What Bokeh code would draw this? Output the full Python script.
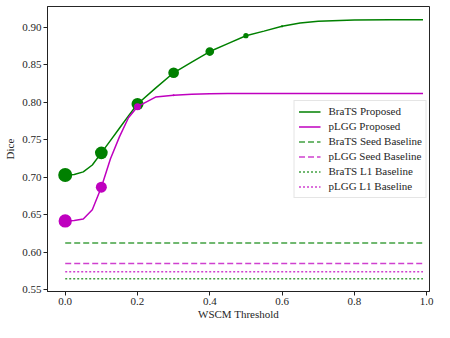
from bokeh.plotting import figure
from bokeh.embed import file_html
from bokeh.resources import INLINE
from bokeh.models import FixedTicker, Range1d, CustomJSTickFormatter

# ---- data ----
thresholds = [0.0, 0.025, 0.05, 0.075, 0.1, 0.125, 0.15, 0.175, 0.2, 0.25, 0.3,
              0.35, 0.4, 0.45, 0.5, 0.55, 0.6, 0.65, 0.7, 0.8, 0.9, 0.99]
brats_dice = [0.7033, 0.7040, 0.7074, 0.7165, 0.7327, 0.7490, 0.7655, 0.7820, 0.7978, 0.8190, 0.8394,
              0.8536, 0.8677, 0.8783, 0.8888, 0.8949, 0.9013, 0.9058, 0.9080, 0.9097, 0.9101, 0.9102]
plgg_dice = [0.6420, 0.6425, 0.6445, 0.6570, 0.6870, 0.7246, 0.7540, 0.7795, 0.7942, 0.8070, 0.8095,
             0.8108, 0.8114, 0.8117, 0.8117, 0.8118, 0.8118, 0.8118, 0.8118, 0.8118, 0.8118, 0.8118]

brats_marker_x = [0.0, 0.1, 0.2, 0.3, 0.4, 0.5, 0.6]
brats_marker_y = [0.7033, 0.7327, 0.7978, 0.8394, 0.8677, 0.8888, 0.9013]
brats_marker_size = [14, 12.7, 12, 10.7, 8.7, 5.3, 2.2]

plgg_marker_x = [0.0, 0.1, 0.2, 0.3]
plgg_marker_y = [0.6420, 0.6870, 0.7942, 0.8095]
plgg_marker_size = [13.3, 11, 7, 2]

baseline_x = [0.0, 0.99]
brats_seed_baseline = 0.6126
plgg_seed_baseline = 0.5853
brats_l1_baseline = 0.5649
plgg_l1_baseline = 0.5742

x_ticks = [0.0, 0.2, 0.4, 0.6, 0.8, 1.0]
y_ticks = [0.55, 0.60, 0.65, 0.70, 0.75, 0.80, 0.85, 0.90]
x_title = "WSCM Threshold"
y_title = "Dice"

GREEN = "#008000"
MAGENTA = "#bf00bf"
FONT = "Liberation Serif"
TXT = "#262626"

p = figure(width=434, height=322, output_backend="svg", toolbar_location=None,
           x_range=Range1d(-0.049, 1.008), y_range=Range1d(0.548, 0.9277),
           min_border_top=6, min_border_right=5, min_border_left=47, min_border_bottom=0)

p.line(thresholds, brats_dice, color=GREEN, line_width=1.5, legend_label="BraTS Proposed")
p.scatter(brats_marker_x, brats_marker_y, size=brats_marker_size, color=GREEN, line_width=0)
p.line(thresholds, plgg_dice, color=MAGENTA, line_width=1.5, legend_label="pLGG Proposed")
p.scatter(plgg_marker_x, plgg_marker_y, size=plgg_marker_size, color=MAGENTA, line_width=0)

p.line(baseline_x, [brats_seed_baseline] * 2, color=GREEN, line_width=1.5, line_alpha=0.75,
       line_dash="6 3", legend_label="BraTS Seed Baseline")
p.line(baseline_x, [plgg_seed_baseline] * 2, color=MAGENTA, line_width=1.5, line_alpha=0.75,
       line_dash="6 3", legend_label="pLGG Seed Baseline")
p.line(baseline_x, [brats_l1_baseline] * 2, color=GREEN, line_width=1.5, line_alpha=0.75,
       line_dash="2 2", legend_label="BraTS L1 Baseline")
p.line(baseline_x, [plgg_l1_baseline] * 2, color=MAGENTA, line_width=1.5, line_alpha=0.75,
       line_dash="2 2", legend_label="pLGG L1 Baseline")

p.grid.visible = False
p.outline_line_color = "black"
p.outline_line_alpha = 0.85
p.outline_line_width = 1

p.xaxis.ticker = FixedTicker(ticks=x_ticks)
p.yaxis.ticker = FixedTicker(ticks=y_ticks)
p.xaxis.formatter = CustomJSTickFormatter(code="return tick.toFixed(1);")
p.yaxis.formatter = CustomJSTickFormatter(code="return tick.toFixed(2);")
p.xaxis.axis_label = x_title
p.yaxis.axis_label = y_title

for ax in (p.xaxis, p.yaxis):
    ax.axis_label_text_font = FONT
    ax.axis_label_text_font_size = "11px"
    ax.axis_label_text_font_style = "normal"
    ax.axis_label_text_color = TXT
    ax.major_label_text_font = FONT
    ax.major_label_text_font_size = "11px"
    ax.major_label_text_color = TXT
    ax.minor_tick_line_color = None
    ax.major_tick_in = 0
    ax.major_tick_out = 4
    ax.major_tick_line_color = "#222222"
    ax.axis_line_color = "#222222"
p.xaxis.major_label_standoff = 2
p.xaxis.axis_label_standoff = 0
p.yaxis.major_label_standoff = 2
p.yaxis.axis_label_standoff = 3

leg = p.legend[0]
leg.location = "center_right"
leg.margin = 2
leg.padding = 4
leg.spacing = 2
leg.label_height = 13
leg.glyph_height = 13
leg.glyph_width = 22
leg.label_standoff = 8
leg.label_text_font = FONT
leg.label_text_font_size = "11px"
leg.label_text_color = TXT
leg.border_line_color = "#cccccc"
leg.border_line_width = 1
leg.background_fill_alpha = 0.85

open("out.html", "w").write(file_html(p, INLINE))
